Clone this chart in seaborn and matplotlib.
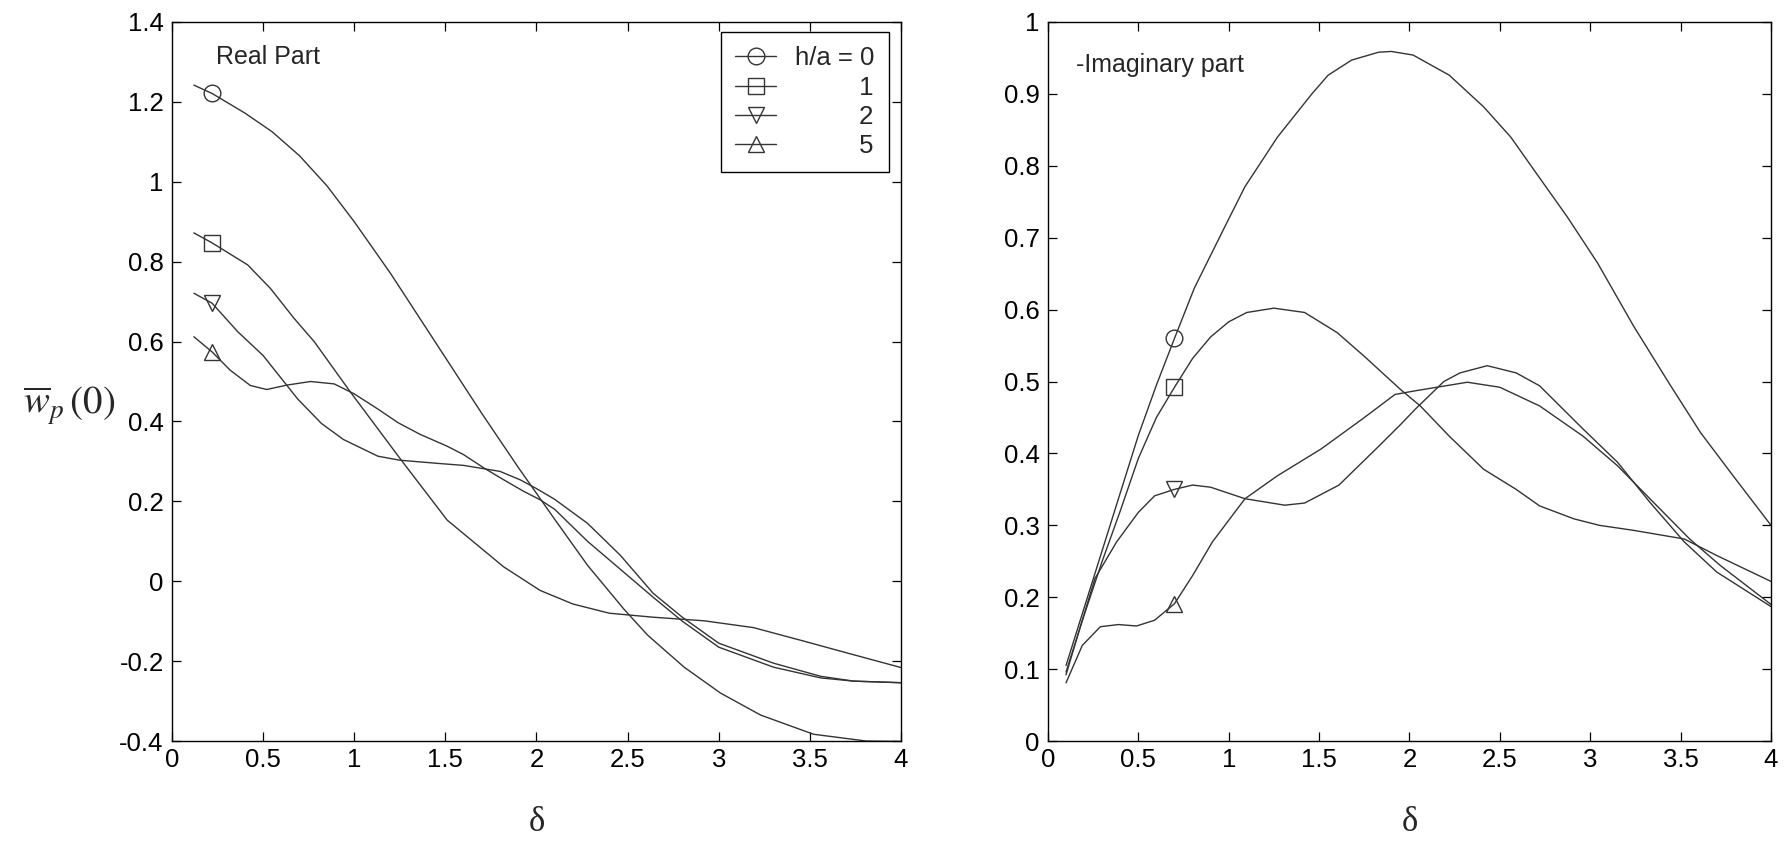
import numpy as np
import matplotlib
matplotlib.use("Agg")
import matplotlib.pyplot as plt
import seaborn as sns
from matplotlib.lines import Line2D
from matplotlib.ticker import FuncFormatter

# ---------------- data ----------------
legend_labels = ["h/a = 0", "         1", "         2", "         5"]
markers = ["o", "s", "v", "^"]

# Real part
re_x_0 = [0.12, 0.22, 0.4, 0.55, 0.7, 0.85, 1.0, 1.2, 1.35, 1.5, 1.7, 1.9, 2.0, 2.1, 2.28, 2.48, 2.61, 2.81, 3.01, 3.23, 3.52, 3.81, 4.0]
re_y_0 = [1.242, 1.221, 1.172, 1.125, 1.065, 0.99, 0.9, 0.77, 0.665, 0.56, 0.42, 0.285, 0.22, 0.155, 0.04, -0.07, -0.135, -0.215, -0.28, -0.335, -0.383, -0.4, -0.401]

re_x_1 = [0.12, 0.22, 0.415, 0.54, 0.67, 0.78, 0.98, 1.255, 1.51, 1.82, 2.02, 2.2, 2.4, 2.64, 2.92, 3.19, 3.46, 3.7, 4.0]
re_y_1 = [0.872, 0.847, 0.792, 0.733, 0.658, 0.6, 0.473, 0.305, 0.153, 0.036, -0.023, -0.057, -0.08, -0.09, -0.099, -0.116, -0.149, -0.179, -0.216]

re_x_2 = [0.12, 0.22, 0.36, 0.5, 0.69, 0.82, 0.94, 1.13, 1.25, 1.46, 1.6, 1.8, 1.91, 2.0, 2.1, 2.28, 2.46, 2.64, 2.8, 3.0, 3.3, 3.56, 3.74, 4.0]
re_y_2 = [0.721, 0.696, 0.625, 0.565, 0.456, 0.395, 0.355, 0.313, 0.303, 0.295, 0.29, 0.275, 0.254, 0.232, 0.205, 0.145, 0.065, -0.03, -0.09, -0.155, -0.205, -0.238, -0.25, -0.254]

re_x_5 = [0.12, 0.22, 0.32, 0.43, 0.52, 0.63, 0.76, 0.89, 1.0, 1.13, 1.24, 1.36, 1.51, 1.6, 1.71, 1.82, 1.93, 2.02, 2.1, 2.28, 2.46, 2.64, 2.8, 3.0, 3.3, 3.56, 3.74, 4.0]
re_y_5 = [0.612, 0.574, 0.528, 0.49, 0.48, 0.491, 0.50, 0.494, 0.469, 0.431, 0.397, 0.368, 0.338, 0.317, 0.284, 0.254, 0.225, 0.204, 0.18, 0.10, 0.03, -0.04, -0.10, -0.165, -0.215, -0.242, -0.25, -0.254]

# -Imaginary part
im_x_0 = [0.1, 0.2, 0.3, 0.4, 0.5, 0.6, 0.7, 0.81, 0.98, 1.09, 1.27, 1.46, 1.55, 1.68, 1.83, 1.9, 2.02, 2.22, 2.41, 2.56, 2.74, 2.87, 3.04, 3.24, 3.44, 3.61, 3.79, 4.0]
im_y_0 = [0.105, 0.185, 0.265, 0.345, 0.425, 0.495, 0.56, 0.63, 0.716, 0.771, 0.84, 0.90, 0.926, 0.947, 0.958, 0.959, 0.954, 0.926, 0.882, 0.84, 0.776, 0.73, 0.665, 0.577, 0.496, 0.429, 0.369, 0.30]

im_x_1 = [0.1, 0.2, 0.3, 0.4, 0.5, 0.6, 0.7, 0.8, 0.9, 1.0, 1.1, 1.25, 1.42, 1.6, 1.75, 1.95, 2.06, 2.22, 2.41, 2.59, 2.72, 2.91, 3.05, 3.24, 3.52, 3.7, 4.0]
im_y_1 = [0.096, 0.175, 0.25, 0.32, 0.393, 0.45, 0.492, 0.532, 0.562, 0.583, 0.596, 0.602, 0.596, 0.568, 0.535, 0.489, 0.466, 0.424, 0.378, 0.35, 0.327, 0.309, 0.30, 0.293, 0.281, 0.258, 0.222]

im_x_2 = [0.1, 0.18, 0.26, 0.38, 0.5, 0.59, 0.7, 0.8, 0.9, 1.09, 1.31, 1.42, 1.61, 1.83, 1.95, 2.03, 2.19, 2.28, 2.43, 2.59, 2.72, 2.96, 3.15, 3.33, 3.52, 3.7, 4.0]
im_y_2 = [0.092, 0.16, 0.226, 0.277, 0.318, 0.341, 0.35, 0.356, 0.353, 0.337, 0.328, 0.331, 0.356, 0.41, 0.44, 0.461, 0.50, 0.512, 0.522, 0.512, 0.494, 0.434, 0.388, 0.332, 0.277, 0.235, 0.187]

im_x_5 = [0.1, 0.19, 0.29, 0.39, 0.49, 0.59, 0.7, 0.8, 0.91, 1.09, 1.27, 1.51, 1.74, 1.92, 2.03, 2.32, 2.5, 2.72, 2.96, 3.15, 3.33, 3.55, 3.72, 4.0]
im_y_5 = [0.081, 0.133, 0.159, 0.162, 0.16, 0.168, 0.191, 0.23, 0.277, 0.337, 0.369, 0.406, 0.448, 0.482, 0.487, 0.499, 0.492, 0.466, 0.424, 0.383, 0.337, 0.281, 0.244, 0.19]

re_xticks = [0, 0.5, 1, 1.5, 2, 2.5, 3, 3.5, 4]
re_yticks = [-0.4, -0.2, 0, 0.2, 0.4, 0.6, 0.8, 1, 1.2, 1.4]
im_yticks = [0, 0.1, 0.2, 0.3, 0.4, 0.5, 0.6, 0.7, 0.8, 0.9, 1]

# ---------------- style ----------------
sns.set_theme(style="ticks")
plt.rcParams['font.family'] = ['Liberation Sans', 'DejaVu Sans']
plt.rcParams['mathtext.fontset'] = 'stix'
plt.rcParams['axes.unicode_minus'] = False
plt.rcParams['axes.edgecolor'] = 'black'
plt.rcParams['axes.linewidth'] = 1.0

LC = '#343434'
FS = 18.5

fig = plt.figure(figsize=(17.88, 8.42), dpi=100)
fig.patch.set_facecolor('white')
ax1 = fig.add_axes([0.0962, 0.1199, 0.4077, 0.854])
ax2 = fig.add_axes([0.5861, 0.1199, 0.4044, 0.854])


def draw(ax, xs, ys, marker, mark_index):
    sns.lineplot(x=xs, y=ys, ax=ax, color=LC, lw=1.0, sort=False, estimator=None,
                 marker=marker, markevery=[mark_index], markersize=12,
                 markerfacecolor='none', markeredgecolor=LC, markeredgewidth=1.0)


re_series = [(re_x_0, re_y_0), (re_x_1, re_y_1), (re_x_2, re_y_2), (re_x_5, re_y_5)]
im_series = [(im_x_0, im_y_0), (im_x_1, im_y_1), (im_x_2, im_y_2), (im_x_5, im_y_5)]

for (xs, ys), m in zip(re_series, markers):
    draw(ax1, xs, ys, m, 1)
for (xs, ys), m in zip(im_series, markers):
    draw(ax2, xs, ys, m, 6)

fmt = FuncFormatter(lambda v, p: ('%g' % round(v, 6)))
for ax in (ax1, ax2):
    ax.set_xlim(0, 4)
    ax.set_xticks(re_xticks)
    ax.xaxis.set_major_formatter(fmt)
    ax.yaxis.set_major_formatter(fmt)
    ax.tick_params(axis='both', which='both', direction='in', top=True, right=True,
                   length=6.5, width=0.9, labelsize=FS, colors='black')
    ax.tick_params(axis='y', pad=6)
    ax.tick_params(axis='x', pad=5)
    for s in ax.spines.values():
        s.set_visible(True)
        s.set_color('black')
        s.set_linewidth(1.0)
    ax.set_facecolor('white')
    ax.grid(False)
    ax.set_xlabel('δ', fontsize=25, family='Liberation Serif')
    ax.xaxis.set_label_coords(0.5, -0.113)
    ax.xaxis.label.set_va('center')

ax1.set_ylim(-0.4, 1.4)
ax1.set_yticks(re_yticks)
ax2.set_ylim(0, 1)
ax2.set_yticks(im_yticks)
ax2.set_ylabel('')

ax1.set_ylabel(r'$\overline{w}_{p}\,(0)$', fontsize=28, rotation=0, ha='center', va='center')
ax1.yaxis.set_label_coords(-0.141, 0.466)

ax1.text(0.06, 0.9415, 'Real Part', transform=ax1.transAxes, fontsize=18, va='baseline', ha='left')
ax2.text(0.039, 0.93, '-Imaginary part', transform=ax2.transAxes, fontsize=18, va='baseline', ha='left')

handles = [Line2D([0], [0], color=LC, lw=1.0, marker=m, markersize=12, markerfacecolor='none',
                  markeredgecolor=LC, markeredgewidth=1.0) for m in markers]
leg = ax1.legend(handles, legend_labels, loc='upper right', bbox_to_anchor=(0.9835, 0.986),
                 borderaxespad=0, fontsize=FS, frameon=True, fancybox=False, edgecolor='black',
                 framealpha=1, handlelength=1.6, handletextpad=0.75, borderpad=0.55, labelspacing=0.21)
leg.get_frame().set_linewidth(1.0)

fig.savefig('out.png', dpi=100, facecolor='white')
